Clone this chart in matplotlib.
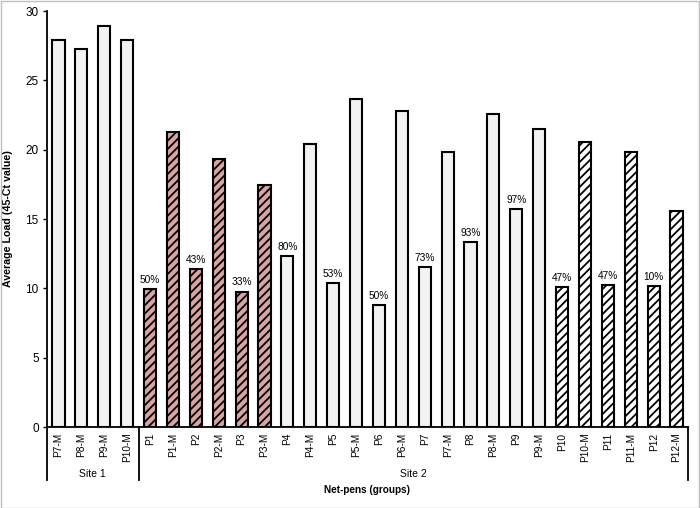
import matplotlib
matplotlib.use("Agg")
import matplotlib.pyplot as plt
import matplotlib.transforms as mtransforms
from matplotlib.lines import Line2D
from matplotlib.patches import Rectangle

plt.rcParams['font.family'] = ['Liberation Sans', 'DejaVu Sans']
plt.rcParams['hatch.linewidth'] = 1.3

categories = ["P7-M", "P8-M", "P9-M", "P10-M",
              "P1", "P1-M", "P2", "P2-M", "P3", "P3-M",
              "P4", "P4-M", "P5", "P5-M", "P6", "P6-M",
              "P7", "P7-M", "P8", "P8-M", "P9", "P9-M",
              "P10", "P10-M", "P11", "P11-M", "P12", "P12-M"]
values = [27.9, 27.25, 28.95, 27.9,
          9.93, 21.25, 11.39, 19.3, 9.76, 17.47,
          12.3, 20.4, 10.36, 23.68, 8.8, 22.76,
          11.56, 19.83, 13.36, 22.57, 15.7, 21.5,
          10.08, 20.52, 10.24, 19.8, 10.14, 15.57]
groups = ["plain"] * 4 + ["pink"] * 6 + ["plain"] * 12 + ["hatch"] * 6
pct_labels = {"P1": "50%", "P2": "43%", "P3": "33%", "P4": "80%", "P5": "53%",
              "P6": "50%", "P7": "73%", "P8": "93%", "P9": "97%",
              "P10": "47%", "P11": "47%", "P12": "10%"}
sites = [("Site 1", 0, 4), ("Site 2", 4, 28)]

W, H = 700, 508
fig = plt.figure(figsize=(W / 100, H / 100), dpi=100)
ax = fig.add_axes([47 / W, 1 - 427 / H, (688 - 47) / W, (427 - 11) / H])

x = list(range(len(categories)))
styles = {"plain": dict(color="#F2F2F2", hatch=None),
          "pink": dict(color="#D9A3A3", hatch="////"),
          "hatch": dict(color="white", hatch="////")}
for i, (v, g) in enumerate(zip(values, groups)):
    st = styles[g]
    ax.bar(i, v, width=0.53, color=st["color"], edgecolor="black",
           linewidth=1.5, hatch=st["hatch"], zorder=2)

for i, c in enumerate(categories):
    if c in pct_labels:
        ax.annotate(pct_labels[c], (i, values[i]), xytext=(0, 3),
                    textcoords="offset points", ha="center", va="bottom",
                    fontsize=7.3)

ax.set_xlim(-0.5, len(categories) - 0.5)
ax.set_ylim(0, 30)
ax.set_yticks([0, 5, 10, 15, 20, 25, 30])
ax.tick_params(axis="y", labelsize=8.5, length=3, width=1, pad=3)
ax.set_xticks(x)
ax.set_xticklabels(categories, rotation=90, fontsize=7.3)
ax.tick_params(axis="x", length=0, pad=4)

for s in ["top", "right"]:
    ax.spines[s].set_visible(False)
ax.spines["left"].set_linewidth(1.3)
ax.spines["bottom"].set_linewidth(1.3)

trans = mtransforms.blended_transform_factory(ax.transData, ax.transAxes)
ybot = (427 - 480) / 416
bounds = [-0.5, 3.5, len(categories) - 0.5]
for b in bounds:
    ax.add_line(Line2D([b, b], [0, ybot], transform=trans, color="black",
                       linewidth=1.3, clip_on=False))
for name, s, e in sites:
    ax.text((s + e - 1) / 2, (427 - 474) / 416, name, transform=trans,
            ha="center", va="center", fontsize=7.5)

ax.set_ylabel("Average Load (45-Ct value)", fontsize=7.7, fontweight="bold",
              labelpad=9)
ax.text(0.5, (427 - 490) / 416, "Net-pens (groups)", transform=ax.transAxes,
        ha="center", va="center", fontsize=7.2, fontweight="bold")

fig.patches.append(Rectangle((0.5 / W, 0.5 / H), 1 - 1.5 / W, 1 - 1.5 / H,
                             transform=fig.transFigure, fill=False,
                             edgecolor="#BFBFBF", linewidth=1))

fig.savefig("out.png", dpi=100)
